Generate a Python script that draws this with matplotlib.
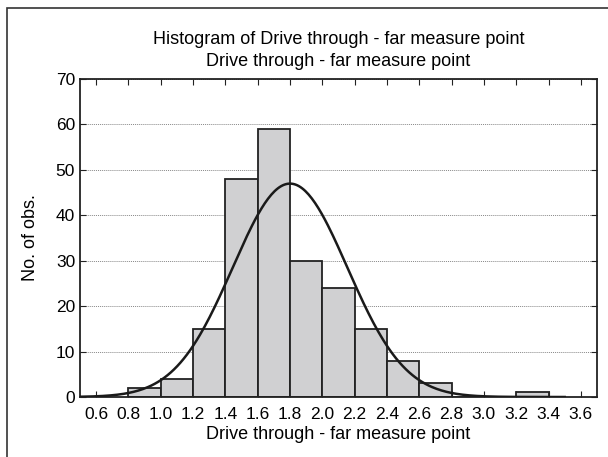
import numpy as np
import matplotlib.pyplot as plt
from matplotlib.patches import Rectangle

# histogram bins (left edges) and counts
bin_left = [0.8, 1.0, 1.2, 1.4, 1.6, 1.8, 2.0, 2.2, 2.4, 2.6, 2.8, 3.0, 3.2]
counts = [2, 4, 15, 48, 59, 30, 24, 15, 8, 3, 0, 0, 1]
bin_width = 0.2

# fitted normal curve parameters
fit_mean = 1.8
fit_std = 0.355
n_obs = sum(counts)

xticks = [0.6, 0.8, 1.0, 1.2, 1.4, 1.6, 1.8, 2.0, 2.2, 2.4, 2.6, 2.8, 3.0, 3.2, 3.4, 3.6]
yticks = [0, 10, 20, 30, 40, 50, 60, 70]

plt.rcParams['font.family'] = ['Liberation Sans', 'DejaVu Sans']

fig = plt.figure(figsize=(6.08, 4.57), dpi=100)
ax = fig.add_axes([80 / 608, 1 - 397 / 457, (597 - 80) / 608, (397 - 79) / 457])

ax.bar(bin_left, counts, width=bin_width, align='edge',
       facecolor='#d0d0d2', edgecolor='#222222', linewidth=1.3, zorder=2)

xs = np.linspace(0.5, 3.5, 300)
ys = n_obs * bin_width / (fit_std * np.sqrt(2 * np.pi)) * np.exp(-0.5 * ((xs - fit_mean) / fit_std) ** 2)
ax.plot(xs, ys, color='#1a1a1a', linewidth=1.8, zorder=3)

ax.set_xlim(0.5, 3.7)
ax.set_ylim(0, 70)
ax.set_xticks(xticks)
ax.set_xticklabels(['%.1f' % t for t in xticks])
ax.set_yticks(yticks)
ax.yaxis.grid(True, linestyle=(0, (1, 1)), color='#888888', linewidth=0.7, zorder=1)
ax.tick_params(direction='in', top=True, right=True, labelsize=12.5, length=4,
               color='#222222')
ax.tick_params(axis='x', pad=7)
for s in ax.spines.values():
    s.set_linewidth(1.3)
    s.set_color('#222222')

ax.set_xlabel('Drive through - far measure point', fontsize=13, labelpad=3)
ax.set_ylabel('No. of obs.', fontsize=13, labelpad=12)
ax.set_title('Histogram of Drive through - far measure point\nDrive through - far measure point',
             fontsize=13, pad=9, linespacing=1.4)

# outer frame (left and top edges visible)
fig.patches.append(Rectangle((7 / 608, -0.05), 0.99, 1 - 8 / 457 + 0.05, transform=fig.transFigure,
                             fill=False, edgecolor='#333333', linewidth=1.2))

plt.savefig('out.png', dpi=100)
